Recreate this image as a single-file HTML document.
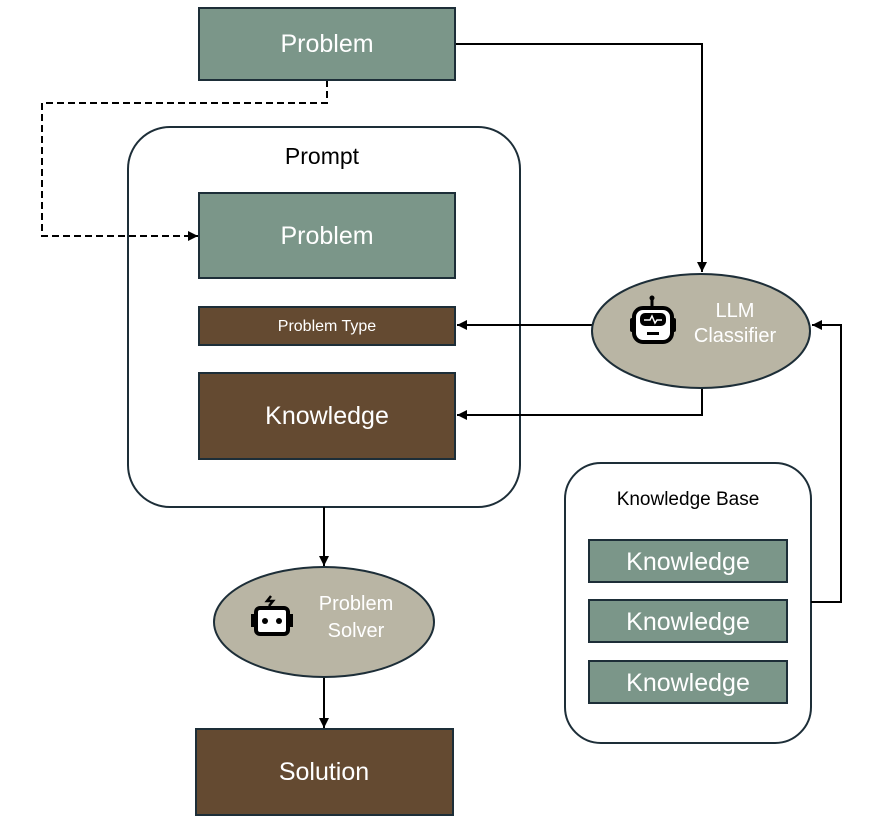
<!DOCTYPE html>
<html><head><meta charset="utf-8"><style>
html,body{margin:0;padding:0;background:#fff;width:880px;height:836px;overflow:hidden}
text{font-family:"Liberation Sans",sans-serif}
</style></head><body>
<svg width="880" height="836" viewBox="0 0 880 836" xmlns="http://www.w3.org/2000/svg">
<defs>
<marker id="a" viewBox="0 0 10 10" refX="10" refY="5" markerWidth="10" markerHeight="10" markerUnits="userSpaceOnUse" orient="auto"><path d="M0,0 L10,5 L0,10 z" fill="#000"/></marker>
</defs>
<g stroke="#1d2e38" stroke-width="2" fill="#fff">
<rect x="128" y="127" width="392" height="380" rx="42"/>
<rect x="565" y="463" width="246" height="280" rx="36"/>
</g>
<g stroke="#000" stroke-width="2" fill="none">
<path d="M455,44 H702 V272" marker-end="url(#a)"/>
<path d="M327,80 V103 H42 V236 H198" stroke-dasharray="7,4" marker-end="url(#a)"/>
<path d="M593,325 H457" marker-end="url(#a)"/>
<path d="M702,388 V415 H457" marker-end="url(#a)"/>
<path d="M811,602 H841 V325 H812" marker-end="url(#a)"/>
<path d="M324,507 V566" marker-end="url(#a)"/>
<path d="M324,677 V728" marker-end="url(#a)"/>
</g>
<g stroke="#1d2e38" stroke-width="2">
<rect x="199" y="8" width="256" height="72" fill="#7b9689"/>
<rect x="199" y="193" width="256" height="85" fill="#7b9689"/>
<rect x="199" y="307" width="256" height="38" fill="#644a31"/>
<rect x="199" y="373" width="256" height="86" fill="#644a31"/>
<rect x="196" y="729" width="257" height="86" fill="#644a31"/>
<rect x="589" y="540" width="198" height="42" fill="#7b9689"/>
<rect x="589" y="600" width="198" height="42" fill="#7b9689"/>
<rect x="589" y="661" width="198" height="42" fill="#7b9689"/>
<ellipse cx="701" cy="331" rx="109" ry="57" fill="#b9b5a4"/>
<ellipse cx="324" cy="622" rx="110" ry="55" fill="#b9b5a4"/>
</g>
<g>
<line x1="652" y1="298" x2="652" y2="308" stroke="#000" stroke-width="3"/>
<circle cx="652" cy="298" r="2.5" fill="#000"/>
<rect x="634" y="308" width="38" height="34" rx="9" fill="#fff" stroke="#000" stroke-width="4"/>
<rect x="630" y="318" width="5" height="14" rx="2" fill="#000"/>
<rect x="671" y="318" width="5" height="14" rx="2" fill="#000"/>
<rect x="640" y="313" width="26" height="13" rx="5" fill="#000"/>
<path d="M644,320 H650 L652,316 L655,323 L657,320 H662" stroke="#fff" stroke-width="1.5" fill="none"/>
<rect x="647" y="332" width="12" height="3" fill="#000"/>
<path d="M271,596 L267,601 H273 L269,606" stroke="#000" stroke-width="2.5" fill="none"/>
<rect x="256" y="608" width="32" height="26" rx="4" fill="#fff" stroke="#000" stroke-width="4"/>
<rect x="251" y="614" width="5" height="13" fill="#000"/>
<rect x="288" y="614" width="5" height="13" fill="#000"/>
<circle cx="265" cy="621" r="3" fill="#000"/>
<circle cx="279" cy="621" r="3" fill="#000"/>
</g>
<g fill="#fff" text-anchor="middle">
<text x="327" y="52" font-size="25">Problem</text>
<text x="327" y="244" font-size="25">Problem</text>
<text x="327" y="331" font-size="16">Problem Type</text>
<text x="327" y="424" font-size="25">Knowledge</text>
<text x="324" y="780" font-size="25">Solution</text>
<text x="688" y="570" font-size="25">Knowledge</text>
<text x="688" y="630" font-size="25">Knowledge</text>
<text x="688" y="691" font-size="25">Knowledge</text>
<text x="735" y="317" font-size="20">LLM</text>
<text x="735" y="342" font-size="20">Classifier</text>
<text x="356" y="610" font-size="20">Problem</text>
<text x="356" y="637" font-size="20">Solver</text>
</g>
<g fill="#000" text-anchor="middle">
<text x="322" y="164" font-size="23">Prompt</text>
<text x="688" y="505" font-size="19">Knowledge Base</text>
</g>
</svg>
</body></html>
